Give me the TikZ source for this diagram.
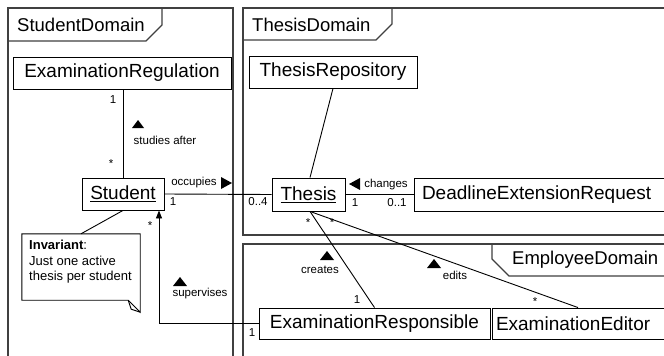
\documentclass[tikz,border=0pt]{standalone}
\usepackage{fontspec}
\setmainfont{Liberation Sans}
\usetikzlibrary{arrows.meta}
\begin{document}
\begin{tikzpicture}[x=1pt,y=-1pt,
  box/.style={draw,line width=0.9pt,inner sep=0pt,font=\fontsize{19}{22}\selectfont},
  lbl/.style={inner sep=0pt,font=\fontsize{11.5}{13}\selectfont},
  frame/.style={draw=black!75,line width=1.3pt},
  title/.style={anchor=west,inner sep=0pt,font=\fontsize{18.5}{22}\selectfont},
  conn/.style={line width=0.9pt}]
\useasboundingbox (0,0) rectangle (664,356);
\clip (0,0) rectangle (664,356);
\fill[white] (0,0) rectangle (664,356);
% frames
\draw[frame] (8,360) -- (8,8) -- (233,8) -- (233,360);
\draw[frame] (8,41) -- (146,41) -- (162,25) -- (162,8);
\node[title] (sdt) at (17,25) {StudentDomain};
\draw[frame] (680,235) -- (243,235) -- (243,8) -- (680,8);
\draw[frame] (243,40) -- (376,40) -- (392,24) -- (392,8);
\node[title] (tdt) at (252,25) {ThesisDomain};
\draw[frame] (243,360) -- (243,244) -- (680,244);
\draw[frame] (492,244) -- (492,259) -- (509,276) -- (680,276);
\node[title] (edt) at (512,260) {EmployeeDomain};
% classes
\node[box,minimum width=218pt,minimum height=32pt] (er) at (122,73) {ExaminationRegulation};
\node[box,minimum width=82pt,minimum height=32pt] (st) at (123,194) {\underline{Student}};
\node[box,minimum width=168pt,minimum height=32pt] (tr) at (333,72) {ThesisRepository};
\node[box,minimum width=73pt,minimum height=33pt] (th) at (308.5,194.5) {\underline{Thesis}};
\node[box,minimum width=258pt,minimum height=33pt,text width=250pt] (der) at (543,194.5) {\hspace*{4pt}DeadlineExtensionRequest};
\node[box,minimum width=231pt,minimum height=31pt] (exr) at (374.5,323.5) {ExaminationResponsible};
\node[box,minimum width=178pt,minimum height=31pt,text width=170pt] (ee) at (581,323.5) {ExaminationEditor};
% note
\node[minimum width=118pt,minimum height=66pt,inner sep=0pt] (note) at (81,267) {};
\draw[line width=0.9pt] (note.north west) -- (note.north east) -- ([yshift=-12pt]note.south east) -- ([xshift=-12pt]note.south east) -- (note.south west) -- cycle;
\draw[line width=0.9pt] ([yshift=-12pt]note.south east) -- ([xshift=-9pt,yshift=-9pt]note.south east) -- ([xshift=-12pt]note.south east);
\node[anchor=north west,align=left,inner sep=0pt,font=\fontsize{13}{15.5}\selectfont] (notetext) at (29,240) {\textbf{Invariant}:\\Just one active\\thesis per student};
% connectors
\draw[conn] (st.north |- er.south) -- (st.north);
\draw[conn] (tr.south) -- ([xshift=1.5pt]th.north);
\draw[conn] (st.east) -- (th.west);
\draw[conn] (th.east) -- (der.west);
\draw[conn] ([xshift=1.5pt]th.south) -- (exr.north);
\draw[conn] ([xshift=1.5pt]th.south) -- ([xshift=-3pt]ee.north);
\draw[conn] (st.south) -- (note.north);
\draw[conn,-{Triangle[width=6pt,length=8pt]}] (exr.west) -| ([xshift=36pt]st.south);
% labels
\node[lbl] (m1) at (113,100) {1};
\node[lbl] (m2) at (111,164) {*};
\fill (132,128) -- (144,128) -- (138,120) -- cycle;
\node[lbl] (l1) at (165,140) {studies after};
\node[lbl] (l2) at (194,183) {occupies};
\fill (221,177) -- (221,189) -- (232,183) -- cycle;
\node[lbl] (m3) at (173,202) {1};
\node[lbl] (m4) at (258,202) {0..4};
\fill (360,178) -- (360,190) -- (349,184) -- cycle;
\node[lbl] (l3) at (386,185) {changes};
\node[lbl] (m5) at (355,203) {1};
\node[lbl] (m6) at (397,203) {0..1};
\node[lbl] (m7) at (308,223) {*};
\node[lbl] (m8) at (332,223) {*};
\fill (320,260) -- (334,260) -- (327,251) -- cycle;
\node[lbl] (l4) at (320,270) {creates};
\fill (427,268) -- (441,268) -- (434,259) -- cycle;
\node[lbl] (l5) at (455,275) {edits};
\node[lbl] (m9) at (357,300) {1};
\node[lbl] (m10) at (535,302) {*};
\node[lbl] (m11) at (150,226) {*};
\fill (173,286) -- (187,286) -- (180,277) -- cycle;
\node[lbl] (l6) at (200,294) {supervises};
\node[lbl] (m12) at (252,333) {1};
\end{tikzpicture}
\end{document}
